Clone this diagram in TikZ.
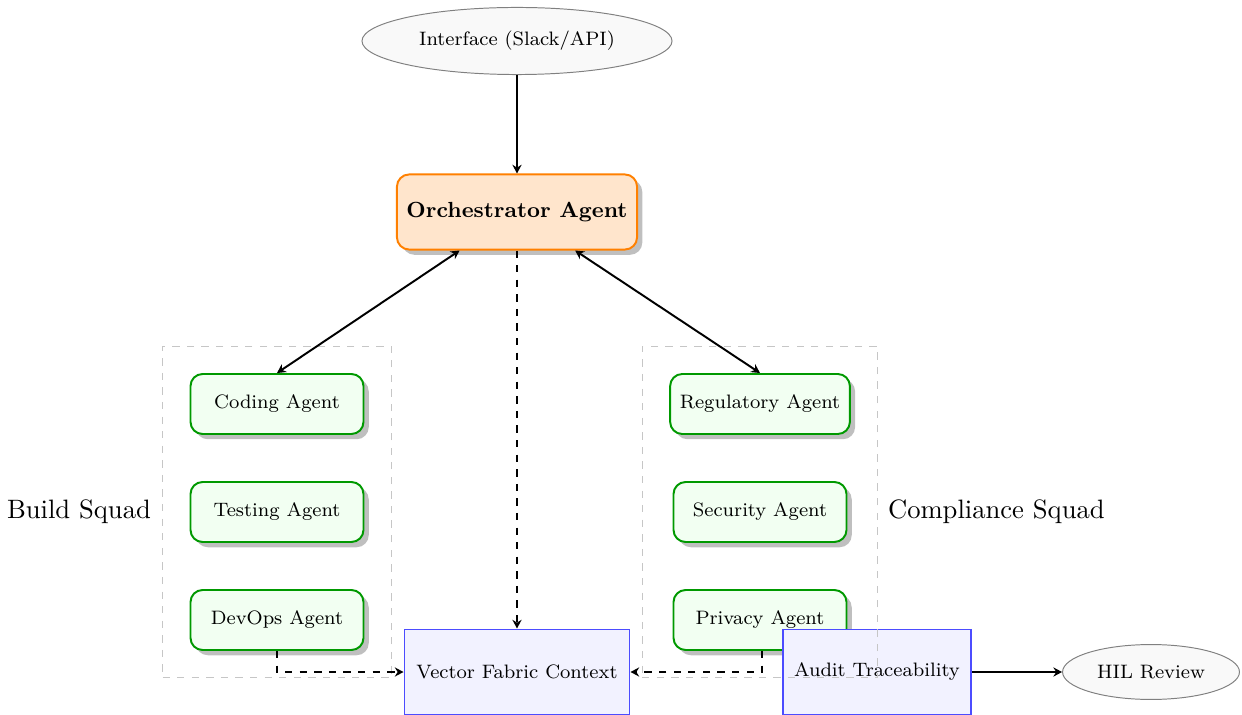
\documentclass[tikz,border=0pt]{standalone}
\usetikzlibrary{arrows.meta,shadows,fit,positioning,shapes.geometric}
\begin{document}
\begin{tikzpicture}[x=0.4115pt,y=-0.4115pt,
  tip/.tip={Stealth[length=3.6pt,width=3.8pt,inset=1.2pt]},
  ell/.style={ellipse,draw=gray,fill=gray!5,font=\footnotesize,inner sep=0pt},
  orch/.style={rectangle,rounded corners=5pt,draw=orange,fill=orange!20,thick,font=\small\bfseries,
    minimum width=98.8pt,minimum height=30.9pt,drop shadow},
  agent/.style={rectangle,rounded corners=5pt,draw=green!60!black,fill=green!5,thick,font=\footnotesize,
    minimum width=71.2pt,minimum height=24.7pt,inner xsep=4pt,drop shadow},
  store/.style={rectangle,draw=blue!70,fill=blue!5,thick,font=\footnotesize,
    minimum height=35pt,inner xsep=4.4pt},
  squad/.style={draw=gray!45,dashed,inner sep=11.1pt},
  squadlbl/.style={font=\fontsize{10.95}{13.6}\selectfont},
  conn/.style={thick,-tip},
  dconn/.style={thick,dashed,-tip}
]
\useasboundingbox (0,0) rectangle (1242,715);
\node[ell,minimum width=127.6pt,minimum height=27.6pt] (iface) at (517,41) {Interface (Slack/API)};
\node[orch] (orch) at (517,212) {Orchestrator Agent};
\node[agent] (coding) at (277,404) {Coding Agent};
\node[agent] (testing) at (277,512) {Testing Agent};
\node[agent] (devops) at (277,620) {DevOps Agent};
\node[agent] (reg) at (760,404) {Regulatory Agent};
\node[agent] (sec) at (760,512) {Security Agent};
\node[agent] (priv) at (760,620) {Privacy Agent};
\node[store,minimum width=92.6pt] (vector) at (517,672) {Vector Fabric Context};
\node[store,minimum width=77.4pt] (audit) at (877,672) {Audit Traceability};
\node[ell,minimum width=72.8pt,minimum height=22.6pt] (hil) at (1151,672) {HIL Review};
\node[squad,fit=(coding)(devops)] (build) {};
\node[squad,fit=(reg)(priv)] (comp) {};
\node[squadlbl,left=0pt of build,inner sep=4.4pt] (buildlbl) {Build Squad};
\node[squadlbl,right=0pt of comp,inner sep=3.8pt] (complbl) {Compliance Squad};
\draw[conn] (iface) -- (orch);
\draw[thick,tip-tip] (orch) -- (coding.north);
\draw[thick,tip-tip] (orch) -- (reg.north);
\draw[dconn] (orch) -- (vector);
\draw[dconn] (devops.south) |- (vector.west);
\draw[dconn] ([xshift=0.8pt]priv.south) |- (vector.east);
\draw[conn] (audit) -- (hil);
\end{tikzpicture}
\end{document}
